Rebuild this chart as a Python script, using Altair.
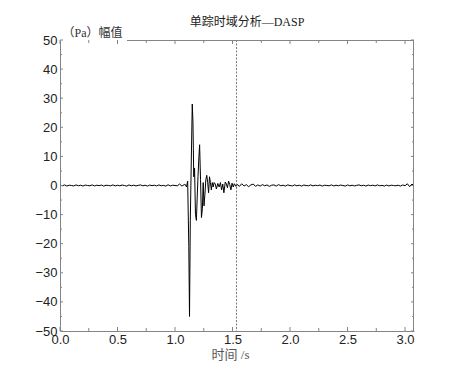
import altair as alt
import pandas as pd

# ---- data ----
pre_vals = [0.1, -0.1, 0.2, -0.2, 0.1, 0.0, -0.15, 0.2, -0.1, 0.1, -0.2, 0.15, 0.0, -0.1,
            0.2, -0.15, 0.1, -0.05, 0.15, -0.2, 0.1, 0.0, -0.1, 0.2, -0.15, 0.1, -0.1, 0.15,
            0.0, -0.2, 0.2, -0.1, 0.1, -0.15, 0.05, 0.2, -0.1, 0.1, -0.2, 0.15, -0.05, 0.1,
            -0.15, 0.2, -0.1, 0.05, -0.2, 0.25, -0.15, 0.1, 0.0, -0.1, 0.5, -0.2, 0.3]
pre_start, pre_step = 0.0, 0.02

burst_t = [1.090, 1.100, 1.110, 1.120, 1.126, 1.133, 1.140, 1.150, 1.156, 1.163, 1.170,
           1.178, 1.186, 1.193, 1.200, 1.208, 1.214, 1.222, 1.230, 1.238, 1.245, 1.252,
           1.260, 1.268, 1.276, 1.284, 1.292, 1.300, 1.308, 1.316, 1.324, 1.332, 1.340,
           1.350, 1.360, 1.372, 1.384, 1.395, 1.405, 1.415, 1.425, 1.437, 1.447, 1.456,
           1.466, 1.476, 1.486, 1.496, 1.506, 1.516, 1.530]
burst_v = [0.3, -0.5, 1.5, -21, -45, -12, 5, 28, 22, 3, 6,
           -10, -12, -4, 3, 10, 14, 2, -11, -8, 1, -7,
           -3, 2, 3.5, 1, -2.5, 3, 1, -1.5, 1, -0.5, 1,
           0.5, -1.2, 0.7, -0.5, 1, -1.5, 0.5, -2.5, 1.2, 0.5, -0.8,
           1.5, 0.3, -1.5, 0.8, -0.5, 0.6, -0.3]

post_vals = [0.4, -0.3, 0.6, -0.2, 0.3, -0.4, 0.2, 0.5, -0.3, 0.2, -0.2, 0.3, -0.1, 0.2,
             -0.3, 0.1, 0.2, -0.2, 0.3, -0.1, 0.1, -0.2, 0.2, 0.0, -0.15, 0.2, -0.1, 0.1,
             -0.2, 0.15, 0.0, -0.1, 0.2, -0.15, 0.1, -0.05, 0.15, -0.2, 0.1, 0.0, -0.1, 0.2,
             -0.15, 0.1, -0.1, 0.15, 0.0, -0.2, 0.2, -0.1, 0.1, -0.15, 0.05, 0.2, -0.1, 0.1,
             -0.2, 0.15, -0.05, 0.1, -0.15, 0.2, -0.1, 0.05, -0.2, 0.15, -0.15, 0.1, 0.0,
             -0.1, 0.1, -0.2, 0.2, -0.1, 0.6, -0.4, 0.5, -0.2]
post_start, post_step = 1.54, 0.02

marker_t = [1.535]
x_major = [0.0, 0.5, 1.0, 1.5, 2.0, 2.5, 3.0]
x_minor = [0.25, 0.75, 1.25, 1.75, 2.25, 2.75]
y_major = [-50, -40, -30, -20, -10, 0, 10, 20, 30, 40, 50]
y_minor = [-45, -35, -25, -15, -5, 5, 15, 25, 35, 45]

X_DOMAIN = [0, 3.078]
Y_DOMAIN = [-50, 50]
W, H = 354, 291
AXIS_GRAY = "#858585"
LABEL_FONT = "Liberation Sans"
SERIF = "Liberation Serif, Noto Sans CJK SC"

# ---- build table ----
t_all = [round(pre_start + i * pre_step, 4) for i in range(len(pre_vals))] + burst_t + \
        [round(post_start + i * post_step, 4) for i in range(len(post_vals))]
v_all = pre_vals + burst_v + post_vals
df = pd.DataFrame({"t": t_all, "v": v_all, "i": range(len(t_all))})

xs = alt.Scale(domain=X_DOMAIN, nice=False, zero=False)
ys = alt.Scale(domain=Y_DOMAIN, nice=False, zero=False)

x_axis = alt.Axis(values=x_major, format=".1f", title="时间 /s", titleX=170,
                  titleAlign="center", labelOverlap=False)
y_axis = alt.Axis(values=y_major, format="d", title="（Pa）幅值", titleAngle=0,
                  titleAlign="left", titleBaseline="middle", titleX=2, titleY=-8,
                  titleFontSize=12, titleColor="#333", labelOverlap=False)

XE = alt.X("t:Q", scale=xs, axis=x_axis)
YE = alt.Y("v:Q", scale=ys, axis=y_axis)

line = alt.Chart(df).mark_line(color="black", strokeWidth=1, clip=True).encode(
    x=XE, y=YE, order="i:Q")

marker = alt.Chart(pd.DataFrame({"t": marker_t})).mark_rule(
    color="#777", strokeWidth=1, strokeDash=[2, 1.5]).encode(
    x=XE, y=alt.value(0), y2=alt.value(H))

# frame top (starting after the unit label) and right
frame = alt.Chart(pd.DataFrame({"a": [0]})).mark_rule(color=AXIS_GRAY, strokeWidth=1)
top_rule = frame.encode(x=alt.value(67), x2=alt.value(W), y=alt.value(0.5))
right_rule = frame.encode(x=alt.value(W - 0.5), y=alt.value(0), y2=alt.value(H))

def xticks(vals, length):
    d = pd.DataFrame({"t": vals})
    base = alt.Chart(d).mark_rule(color=AXIS_GRAY, strokeWidth=1)
    b = base.encode(x=XE, y=alt.value(H), y2=alt.value(H - length))
    tp = base.encode(x=XE, y=alt.value(0), y2=alt.value(length))
    return [b, tp]

def yticks(vals, length):
    d = pd.DataFrame({"v": vals})
    base = alt.Chart(d).mark_rule(color=AXIS_GRAY, strokeWidth=1)
    l = base.encode(y=YE, x=alt.value(0), x2=alt.value(length))
    r = base.encode(y=YE, x=alt.value(W), x2=alt.value(W - length))
    return [l, r]

layers = [line, marker, top_rule, right_rule] + xticks(x_major, 4) + xticks(x_minor, 3) \
         + yticks(y_major, 3) + yticks(y_minor, 2)

chart = alt.layer(*layers).properties(
    width=W, height=H,
    title=alt.TitleParams("单踪时域分析—DASP", font=SERIF, fontSize=12,
                          fontWeight="normal", color="#222", anchor="middle",
                          dx=10, dy=3, offset=0),
    autosize=alt.AutoSizeParams(type="none"),
    padding={"left": 52, "top": 32, "right": 10, "bottom": 30},
).configure_view(strokeWidth=0).configure_axis(
    ticks=False, grid=False, domainColor=AXIS_GRAY, domainWidth=1,
    labelFont=LABEL_FONT, labelFontSize=13, labelColor="#222", labelOverlap=False,
    labelFlush=False, titleFont=SERIF, titleFontSize=13, titleFontWeight="normal",
    titleColor="#555",
).configure_axisX(labelPadding=2, titlePadding=2).configure_axisY(labelPadding=3)

chart.save("out.html", embed_options={"renderer": "svg", "actions": False})
